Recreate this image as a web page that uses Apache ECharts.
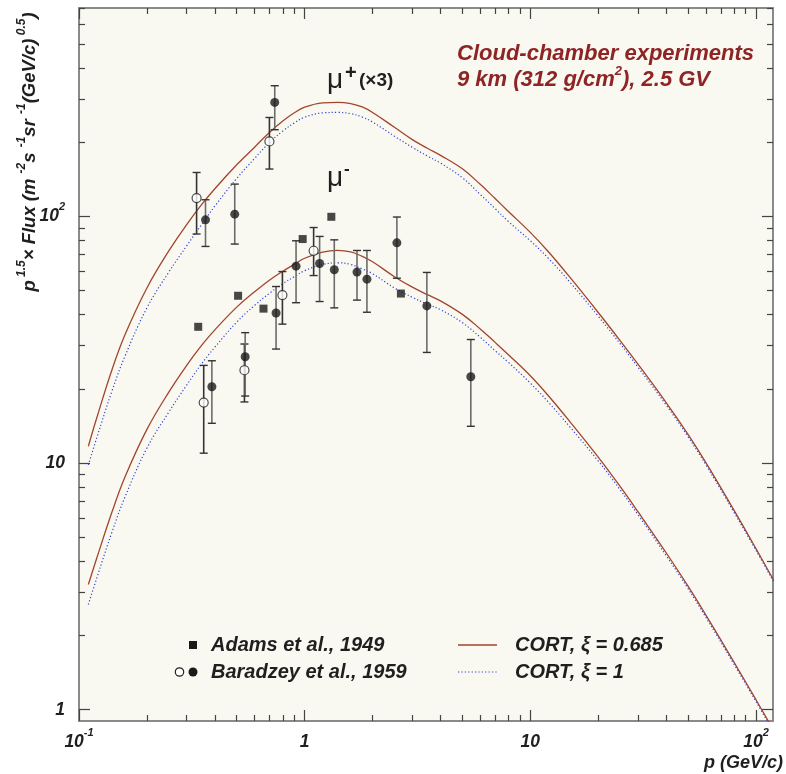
<!DOCTYPE html>
<html><head><meta charset="utf-8">
<script src="https://cdn.jsdelivr.net/npm/echarts@6/dist/echarts.min.js"></script>
<style>html,body{margin:0;padding:0;background:#fff}#c{width:786px;height:774px}</style>
</head><body><div id="c"></div>
<script>
// ---- model curves (CORT), sampled on a common momentum grid (GeV/c)
const curveX = [0.11,0.12,0.14,0.16,0.2,0.25,0.3,0.35,0.4,0.5,0.6,0.7,0.8,0.9,1.0,1.2,1.4,1.6,1.8,2.0,2.5,3.0,3.5,4,5,6,7,8,10,12,15,20,25,30,40,50,60,80,100,120];
const plusXi0685 = [11.7,15.3,23.9,33.2,51.3,72.5,92.7,111.9,129.6,162,191,219.6,243.8,263.3,277.6,289,290.3,287,278,264,230,205,189,177,156,135,118,104.8,86.2,72.1,56.6,40.8,31.4,25.2,17.6,13.08,10.04,6.43,4.5,3.34];
const plusXi1 = [9.83,12.7,19.6,27.2,42.6,59.5,76.0,92.9,110.2,142.6,171.9,199.8,221.9,239.6,252.6,263,264.2,261.2,253,241.6,211.6,190.7,175.8,164.6,143.5,122.9,107.4,95.4,79.7,67.8,54.1,39.4,30.5,24.5,17.2,12.8,9.84,6.31,4.43,3.29];
const minusXi0685 = [3.22,4.13,6.33,8.8,13.7,19.4,24.9,30.1,34.7,42.9,49.5,55.3,60.0,64.0,67.7,71.7,72.9,71.8,68.9,65.5,57.0,51.7,48.2,45.5,40.1,35.0,30.8,27.5,22.6,18.8,14.7,10.57,8.04,6.35,4.33,3.17,2.42,1.556,1.098,0.822];
const minusXi1 = [2.67,3.43,5.25,7.3,11.5,16.1,20.7,25.3,29.5,37.3,43.6,48.9,53.4,57.0,60.3,63.8,64.9,63.9,61.3,58.6,51.3,47.0,44.1,41.9,37.1,32.4,28.5,25.6,21.1,17.7,14.0,10.2,7.8,6.18,4.22,3.1,2.37,1.528,1.08,0.81];

// ---- Adams et al., 1949 (mu-)
const adamsX = [0.3375,0.507,0.657,0.98,1.313,2.67];
const adamsY = [35.7,47.7,42.3,81.0,99.7,48.7];

// ---- Baradzey et al., 1959 open circles (mu+ x3 and mu-)
const openX  = [0.332,0.698,0.357,0.541,0.797,1.096];
const openY  = [118.8,201.5,17.6,23.8,48.0,72.6];
const openLo = [84.9,155.7,10.97,17.7,36.6,57.6];
const openHi = [150.8,252,24.9,30.4,59.8,90.2];

// ---- Baradzey et al., 1959 filled circles
const filledX  = [0.3636,0.490,0.737,0.388,0.545,0.747,0.916,1.165,1.353,1.706,1.888,2.563,3.48,5.45];
const filledY  = [96.9,102.2,290,20.4,27.0,40.6,62.9,64.5,60.8,59.5,55.7,78.2,43.4,22.4];
const filledLo = [75.6,77.3,224.8,14.5,18.7,29.0,44.7,45.2,42.6,45.8,40.9,56.2,28.1,14.1];
const filledHi = [116.9,135.3,339,26.0,33.8,52.0,79.7,83.0,80.4,72.8,72.8,99.5,59.3,31.7];

// ---- axes
const xMin = 0.1, xMax = 119;
const yMin = 0.9, yMax = 700.4;
const xMajor = [0.1,1,10,100];
const xMinor = [0.2,0.3,0.4,0.5,0.6,0.7,0.8,0.9,2,3,4,5,6,7,8,9,20,30,40,50,60,70,80,90];
const yMajor = [1,10,100];
const yMinor = [2,3,4,5,6,7,8,9,20,30,40,50,60,70,80,90,200,300,400,500,600,700];
const xTickText = {'0.1':'{b|10}{s|-1}','1':'{b|1}','10':'{b|10}','100':'{b|10}{s|2}'};
const yTickText = {'1':'{b|1}','10':'{b|10}','100':'{b|10}{s|2}'};

const F = '"Liberation Sans", Arial, Helvetica, sans-serif';
const BROWN = '#a3442c', BLUE = '#2f43d0', TXT = '#1f1f1f', RED = '#8e2424';
const rich = {
  b:{fontSize:17.5,fontWeight:'bold',fontStyle:'italic',fontFamily:F,color:TXT,lineHeight:30,verticalAlign:'middle'},
  s:{fontSize:11,fontWeight:'bold',fontStyle:'italic',fontFamily:F,color:TXT,lineHeight:13,verticalAlign:'top'}
};
const fmtKey = v => String(+(+v).toPrecision(6));

function mkX(pos, major, showLine){
  return {type:'log', min:xMin, max:xMax, position:pos, logBase:10,
    axisLine:{show:showLine, onZero:false, lineStyle:{color:'#8a8a8a', width:2}},
    axisTick:{show:true, inside:true, length: major?11:6, customValues: major?xMajor:xMinor, lineStyle:{color:'#444', width:1.2}},
    axisLabel:(major && pos==='bottom') ? {show:true, customValues:xMajor, margin:6, formatter:v=>xTickText[fmtKey(v)]||'', rich:rich} : {show:false},
    splitLine:{show:false}, minorTick:{show:false}};
}
function mkY(pos, major, showLine){
  return {type:'log', min:yMin, max:yMax, position:pos, logBase:10,
    axisLine:{show:showLine, onZero:false, lineStyle:{color:'#8a8a8a', width:2}},
    axisTick:{show:true, inside:true, length: major?11:6, customValues: major?yMajor:yMinor, lineStyle:{color:'#444', width:1.2}},
    axisLabel:(major && pos==='left') ? {show:true, customValues:yMajor, margin:14, formatter:v=>yTickText[fmtKey(v)]||'', rich:rich} : {show:false},
    splitLine:{show:false}, minorTick:{show:false}};
}

function curve(ys){ return curveX.map((x,i)=>[x, ys[i]]); }
function pts(xs, ys){ return xs.map((x,i)=>[x, ys[i]]); }
function bars(xs, lo, hi){ return xs.map((x,i)=>[x, lo[i], hi[i]]); }

function errRender(stemColor, capColor){
  return function(params, api){
    const x = api.value(0), lo = api.value(1), hi = api.value(2);
    const a = api.coord([x, lo]), b = api.coord([x, hi]);
    const w = 4;
    return {type:'group', children:[
      {type:'line', shape:{x1:a[0],y1:a[1],x2:b[0],y2:b[1]}, style:{stroke:stemColor, lineWidth:1.6}},
      {type:'line', shape:{x1:a[0]-w,y1:a[1],x2:a[0]+w,y2:a[1]}, style:{stroke:capColor, lineWidth:1.4}},
      {type:'line', shape:{x1:b[0]-w,y1:b[1],x2:b[0]+w,y2:b[1]}, style:{stroke:capColor, lineWidth:1.4}}
    ]};
  };
}

const chart = echarts.init(document.getElementById('c'), null, {renderer:'canvas'});
const txt = (t, x, y, st) => ({type:'text', x:x, y:y, z:100, style:Object.assign({text:t, fontFamily:F, fill:TXT, fontSize:20, fontWeight:'bold', fontStyle:'italic', align:'left', verticalAlign:'middle'}, st||{})});

chart.setOption({
  animation:false,
  backgroundColor:'#ffffff',
  grid:{left:79, top:8, right:13, bottom:53, show:true, backgroundColor:'#f9f8f1', borderWidth:0},
  xAxis:[mkX('bottom',true,true), mkX('bottom',false,false), mkX('top',true,true), mkX('top',false,false)],
  yAxis:[mkY('left',true,true), mkY('left',false,false), mkY('right',true,true), mkY('right',false,false)],
  series:[
    {type:'line', name:'CORT, ξ = 0.685', data:curve(plusXi0685), showSymbol:false, smooth:0.4, lineStyle:{color:BROWN, width:1.3}, z:2},
    {type:'line', name:'CORT, ξ = 1', data:curve(plusXi1), showSymbol:false, smooth:0.4, lineStyle:{color:BLUE, width:1.2, type:[1.2,2.2]}, z:2},
    {type:'line', name:'CORT, ξ = 0.685 ', data:curve(minusXi0685), showSymbol:false, smooth:0.4, lineStyle:{color:BROWN, width:1.3}, z:2},
    {type:'line', name:'CORT, ξ = 1 ', data:curve(minusXi1), showSymbol:false, smooth:0.4, lineStyle:{color:BLUE, width:1.2, type:[1.2,2.2]}, z:2},
    {type:'custom', name:'err open', data:bars(openX, openLo, openHi), renderItem:errRender('#333','#333'), encode:{x:0, y:[1,2]}, z:3},
    {type:'custom', name:'err filled', data:bars(filledX, filledLo, filledHi), renderItem:errRender('#6c6c6c','#333'), encode:{x:0, y:[1,2]}, z:3},
    {type:'scatter', name:'Adams et al., 1949', data:pts(adamsX, adamsY), symbol:'rect', symbolSize:8, itemStyle:{color:'#1a1a1a'}, z:5},
    {type:'scatter', name:'Baradzey open', data:pts(openX, openY), symbol:'circle', symbolSize:9, itemStyle:{color:'#ffffff', borderColor:'#222', borderWidth:1.2}, z:5},
    {type:'scatter', name:'Baradzey filled', data:pts(filledX, filledY), symbol:'circle', symbolSize:9, itemStyle:{color:'#1a1a1a'}, z:5}
  ],
  graphic:[
    // top-right annotation
    txt('Cloud-chamber experiments', 457, 54, {fill:RED, fontSize:22}),
    {type:'text', x:457, y:80, z:100, style:{text:'{a|9 km (312 g/cm}{b|2}{a|), 2.5 GV}', align:'left', verticalAlign:'middle',
      rich:{a:{fontFamily:F,fontSize:22,fontWeight:'bold',fontStyle:'italic',fill:RED,color:RED,lineHeight:30,verticalAlign:'middle'},
            b:{fontFamily:F,fontSize:13,fontWeight:'bold',fontStyle:'italic',fill:RED,color:RED,lineHeight:17,verticalAlign:'top'}}}},
    // mu labels
    {type:'text', x:327, y:80, z:100, style:{text:'μ', fontFamily:F, fontSize:28, fill:TXT, align:'left', verticalAlign:'middle'}},
    {type:'text', x:345, y:73, z:100, style:{text:'+', fontFamily:F, fontSize:20, fontWeight:'bold', fill:TXT, align:'left', verticalAlign:'middle'}},
    {type:'text', x:359, y:81, z:100, style:{text:'(×3)', fontFamily:F, fontSize:19, fontWeight:'bold', fill:TXT, align:'left', verticalAlign:'middle'}},
    {type:'text', x:327, y:178, z:100, style:{text:'μ', fontFamily:F, fontSize:28, fill:TXT, align:'left', verticalAlign:'middle'}},
    {type:'text', x:344, y:169, z:100, style:{text:'-', fontFamily:F, fontSize:17, fontWeight:'bold', fill:TXT, align:'left', verticalAlign:'middle'}},
    // legend
    {type:'rect', z:100, shape:{x:189, y:641, width:8, height:8}, style:{fill:'#1a1a1a'}},
    txt('Adams et al., 1949', 211, 645),
    {type:'circle', z:100, shape:{cx:179.5, cy:672, r:4.2}, style:{fill:'#fff', stroke:'#222', lineWidth:1.2}},
    {type:'circle', z:100, shape:{cx:193, cy:672, r:4.5}, style:{fill:'#1a1a1a'}},
    txt('Baradzey et al., 1959', 211, 672),
    {type:'line', z:100, shape:{x1:458, y1:645, x2:497, y2:645}, style:{stroke:BROWN, lineWidth:1.3}},
    txt('CORT, ξ = 0.685', 515, 645),
    {type:'line', z:100, shape:{x1:458, y1:672, x2:497, y2:672}, style:{stroke:BLUE, lineWidth:1.2, lineDash:[1.2,2.2]}},
    txt('CORT, ξ = 1', 515, 672),
    // axis titles
    txt('p (GeV/c)', 783, 763, {align:'right', fontSize:18}),
    {type:'text', x:30, y:152, rotation:Math.PI/2, z:100, style:{align:'center', verticalAlign:'middle',
      text:'{b|p}{s| 1.5}{b|× Flux (m }{s|-2}{b|s }{s|-1}{b|sr }{s|-1}{b|(GeV/c)}{s| 0.5}{b|)}',
      rich:{b:{fontFamily:F,fontSize:18.5,fontWeight:'bold',fontStyle:'italic',fill:TXT,color:TXT,lineHeight:28,verticalAlign:'middle'},
            s:{fontFamily:F,fontSize:12,fontWeight:'bold',fontStyle:'italic',fill:TXT,color:TXT,lineHeight:13,verticalAlign:'top'}}}}
  ]
});
</script></body></html>
